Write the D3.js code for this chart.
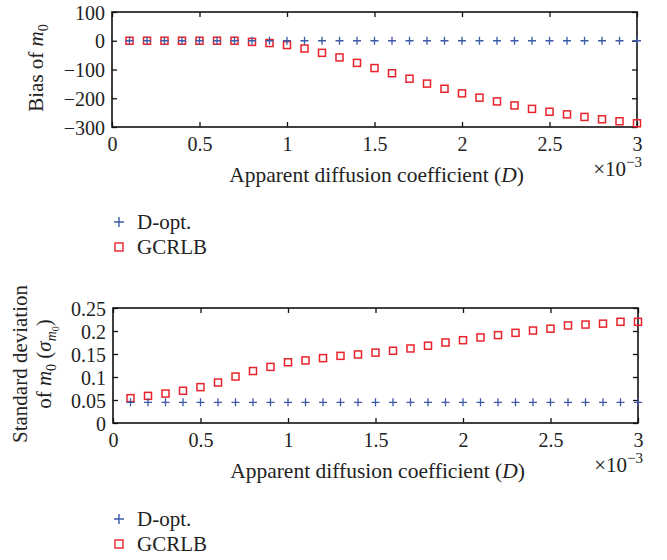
<!DOCTYPE html>
<html><head><meta charset="utf-8">
<script src="https://cdn.jsdelivr.net/npm/d3@7"></script>
<style>
body{margin:0;background:#fff;}
svg text{font-family:"Liberation Serif","DejaVu Serif",serif;fill:#222;}
</style></head>
<body><svg id="c" width="667" height="560"></svg>
<script>
const dValues = [0.1,0.2,0.3,0.4,0.5,0.6,0.7,0.8,0.9,1.0,1.1,1.2,1.3,1.4,1.5,1.6,1.7,1.8,1.9,2.0,2.1,2.2,2.3,2.4,2.5,2.6,2.7,2.8,2.9,3.0];
const biasDopt = [0,0,0,0,0,0,0,0,0,0,0,0,0,0,0,0,0,0,0,0,0,0,0,0,0,0,0,0,0,0];
const biasGCRLB = [0,0,0,0,0,0,0,-4,-8,-15,-27,-42,-58,-77,-95,-113,-132,-149,-167,-183,-198,-211,-225,-237,-247,-256,-265,-273,-280,-287];
const sdDopt = [0.045,0.045,0.045,0.045,0.045,0.045,0.045,0.045,0.045,0.045,0.045,0.045,0.045,0.045,0.045,0.045,0.045,0.045,0.045,0.045,0.045,0.045,0.045,0.045,0.045,0.045,0.045,0.045,0.045,0.045];
const sdGCRLB = [0.054,0.059,0.064,0.070,0.078,0.088,0.101,0.113,0.122,0.132,0.136,0.141,0.146,0.149,0.153,0.157,0.162,0.168,0.175,0.180,0.186,0.191,0.196,0.201,0.205,0.212,0.214,0.216,0.220,0.220];
const xTicks = [0,0.5,1,1.5,2,2.5,3];
const biasTicks = [100,0,-100,-200,-300];
const sdTicks = [0,0.05,0.1,0.15,0.2,0.25];
const seriesNames = ["D-opt.","GCRLB"];

const BLUE = "#3c5aa8", RED = "#e8232b";
const svg = d3.select("#c");

function panel(cfg){
  const {x0,x1,y0,y1,ydom,yticks,yfmt,dA,dB} = cfg;
  const x = d3.scaleLinear().domain([0,3]).range([x0,x1]);
  const y = d3.scaleLinear().domain(ydom).range([y1,y0]);
  const g = svg.append("g");
  const fs = "20px";
  const ax = (sel)=>{sel.select(".domain").remove(); sel.selectAll("line").attr("stroke","#111").attr("stroke-width",1.3);};
  g.append("g").attr("transform",`translate(0,${y1})`)
    .call(d3.axisBottom(x).tickValues(xTicks).tickSize(-5).tickPadding(10).tickFormat(d=>d))
    .call(ax).selectAll("text").style("font-size",fs).attr("fill","#222");
  g.append("g").attr("transform",`translate(0,${y0})`)
    .call(d3.axisTop(x).tickValues(xTicks).tickSize(-5).tickFormat(""))
    .call(ax);
  g.append("g").attr("transform",`translate(${x0},0)`)
    .call(d3.axisLeft(y).tickValues(yticks).tickSize(-5).tickPadding(7).tickFormat(yfmt))
    .call(ax).selectAll("text").style("font-size",fs).attr("fill","#222").attr("dy","0.35em");
  g.append("g").attr("transform",`translate(${x1},0)`)
    .call(d3.axisRight(y).tickValues(yticks).tickSize(-5).tickFormat(""))
    .call(ax);
  g.append("rect").attr("x",x0).attr("y",y0).attr("width",x1-x0).attr("height",y1-y0)
    .attr("fill","none").attr("stroke","#111").attr("stroke-width",1.6);
  g.append("g").selectAll("rect").data(dValues).join("rect")
    .attr("x",(d,i)=>x(d)-3.5).attr("y",(d,i)=>y(dB[i])-3.5).attr("width",7).attr("height",7)
    .attr("fill","none").attr("stroke",RED).attr("stroke-width",1.5);
  g.append("g").selectAll("path").data(dValues).join("path")
    .attr("d",(d,i)=>{const cx=x(d),cy=y(dA[i]);return `M${cx-4},${cy}H${cx+4}M${cx},${cy-4}V${cy+4}`;})
    .attr("stroke",BLUE).attr("stroke-width",1.3).attr("fill","none");
  const xl = g.append("text").attr("x",(x0+x1)/2+2).attr("y",y1+55).attr("text-anchor","middle").style("font-size","21.5px");
  xl.append("tspan").text("Apparent diffusion coefficient (");
  xl.append("tspan").attr("font-style","italic").text("D");
  xl.append("tspan").text(")");
  const ex = g.append("text").attr("x",x1+5).attr("y",y1+49).attr("text-anchor","end").style("font-size","21px");
  ex.append("tspan").text("×10");
  ex.append("tspan").attr("dy","-9").style("font-size","15px").text("−3");
  return {x,y,g};
}

function legend(lx,ly){
  const g = svg.append("g");
  g.append("path").attr("d",`M${lx-5},${ly}H${lx+5}M${lx},${ly-5}V${ly+5}`).attr("stroke",BLUE).attr("stroke-width",1.4);
  g.append("text").attr("x",lx+18).attr("y",ly).attr("dy","0.35em").style("font-size","21px").text(seriesNames[0]);
  g.append("rect").attr("x",lx-4).attr("y",ly+25-4).attr("width",8).attr("height",8).attr("fill","none").attr("stroke",RED).attr("stroke-width",1.4);
  g.append("text").attr("x",lx+18).attr("y",ly+25).attr("dy","0.35em").style("font-size","21px").text(seriesNames[1]);
}

const p1 = panel({x0:112,x1:637,y0:12,y1:127,ydom:[-300,100],yticks:biasTicks,yfmt:d=>d<0?"−"+(-d):d,dA:biasDopt,dB:biasGCRLB});
const yl1 = svg.append("text").attr("transform","translate(43,68) rotate(-90)").attr("text-anchor","middle").style("font-size","21px");
yl1.append("tspan").text("Bias of ");
yl1.append("tspan").attr("font-style","italic").text("m");
yl1.append("tspan").attr("dy","5").style("font-size","14px").text("0");
legend(119,222);

const p2 = panel({x0:113,x1:638,y0:308,y1:423,ydom:[0,0.25],yticks:sdTicks,yfmt:d=>d,dA:sdDopt,dB:sdGCRLB});
svg.append("text").attr("transform","translate(27,364) rotate(-90)").attr("text-anchor","middle").style("font-size","21px").text("Standard deviation");
const yl2 = svg.append("text").attr("transform","translate(51,364) rotate(-90)").attr("text-anchor","middle").style("font-size","21px");
yl2.append("tspan").text("of ");
yl2.append("tspan").attr("font-style","italic").text("m");
yl2.append("tspan").attr("dy","5").style("font-size","14px").text("0");
yl2.append("tspan").attr("dy","-5").text(" (");
yl2.append("tspan").attr("font-style","italic").text("σ");
yl2.append("tspan").attr("font-style","italic").attr("dy","5").style("font-size","14px").text("m");
yl2.append("tspan").attr("dy","3").style("font-size","10px").text("0");
yl2.append("tspan").attr("dy","-8").text(")");
legend(119,519);
</script></body></html>
